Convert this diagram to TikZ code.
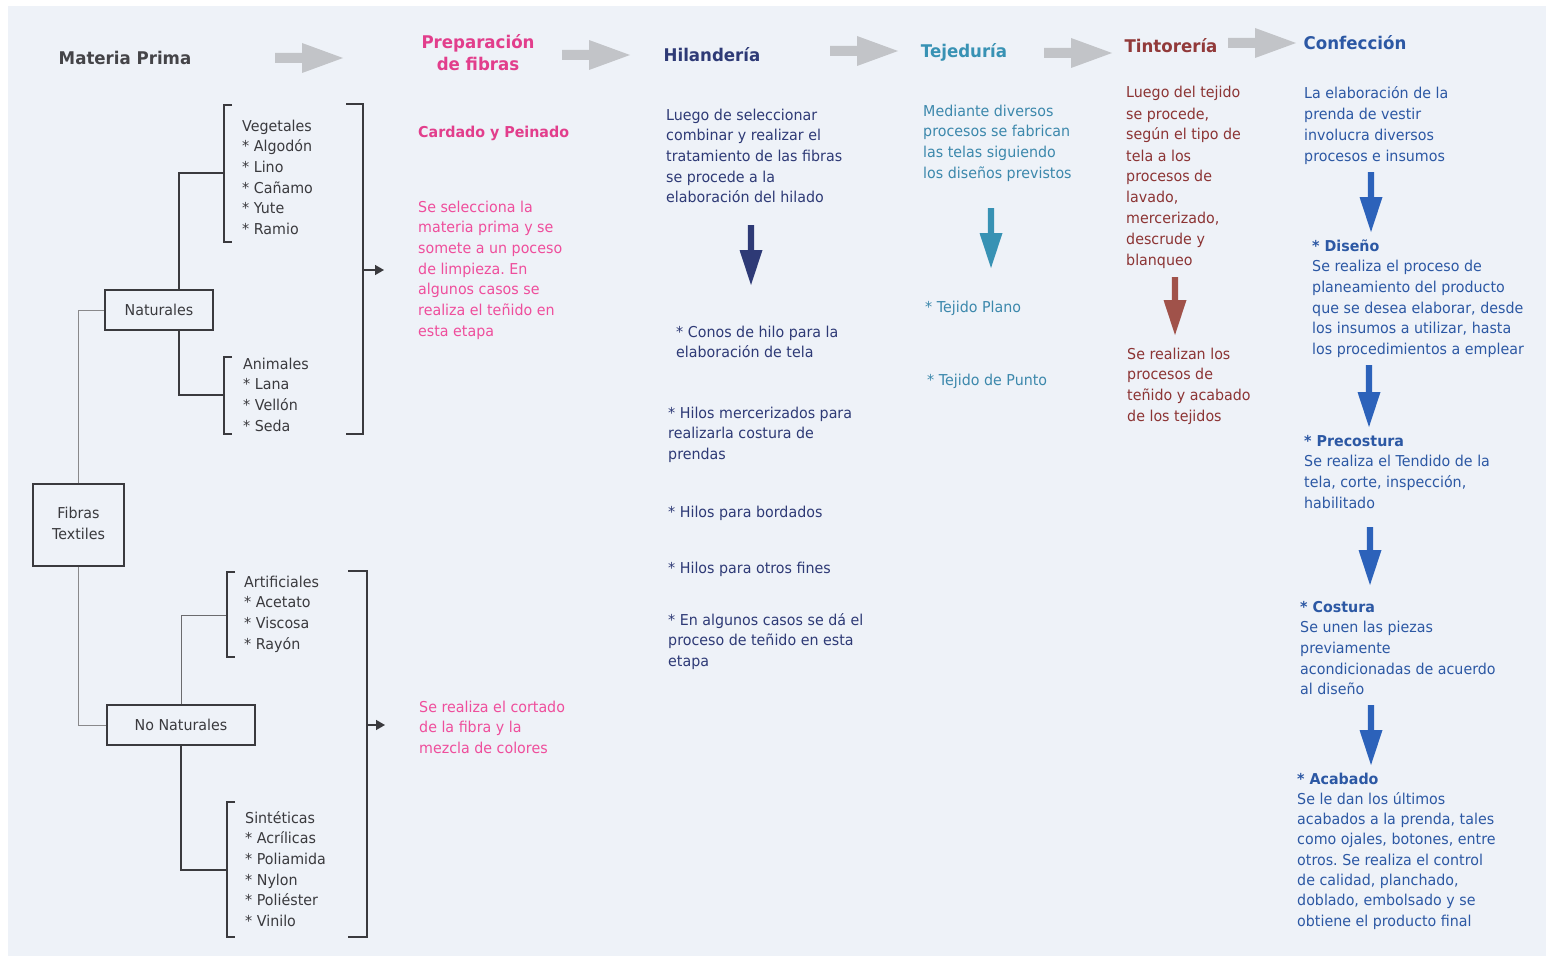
\documentclass[tikz,border=0pt]{standalone}
\usepackage{fontspec}
\setmainfont{DejaVu Sans}[FakeStretch=0.95]
\usetikzlibrary{arrows.meta}
\frenchspacing
\definecolor{bgc}{RGB}{238,242,248}
\definecolor{inkc}{RGB}{58,58,62}
\definecolor{pinkh}{RGB}{226,62,140}
\definecolor{pinkt}{RGB}{238,78,156}
\definecolor{navyc}{RGB}{46,58,118}
\definecolor{tealc}{RGB}{56,146,180}
\definecolor{tealt}{RGB}{60,136,172}
\definecolor{brownc}{RGB}{146,58,58}
\definecolor{brownt}{RGB}{140,52,52}
\definecolor{browna}{RGB}{160,82,74}
\definecolor{bluec}{RGB}{44,88,164}
\definecolor{bluea}{RGB}{44,98,186}
\definecolor{grayar}{RGB}{194,196,200}
\newcommand\fs{\fontsize{15}{20.7}\selectfont}
\newcommand\fh{\fontsize{17.5}{24}\selectfont\bfseries}
\newcommand\tl[1]{\begin{tabular}[t]{@{}l@{}}#1\end{tabular}}
\newcommand\tc[1]{\begin{tabular}[t]{@{}c@{}}#1\end{tabular}}
\newcommand\grayarrow[2]{\fill[grayar] (#1,#2) ++(0,-5) -- ++(27,0) -- ++(0,-10) -- ++(41,15) -- ++(-41,15) -- ++(0,-10) -- ++(-27,0) -- cycle;}
\newcommand\dnarrow[4]{\fill[#1] (#2,#3) ++(-3.2,0) -- ++(6.4,0) -- ++(0,#4-35) -- ++(8.3,0) -- ++(-11.5,35) -- ++(-11.5,-35) -- ++(8.3,0) -- cycle;}
\begin{document}
\begin{tikzpicture}[x=1pt,y=-1pt,
  txt/.style={anchor=base west, inner sep=0pt, font=\fs},
  head/.style={anchor=center, inner sep=0pt, font=\fh},
  box/.style={draw=inkc, line width=1.4pt, inner sep=0pt, font=\fs, text=inkc, fill=bgc},
  treel/.style={draw=inkc, line width=1.4pt},
  thinl/.style={draw=inkc!60, line width=0.8pt},
  outarr/.style={draw=inkc, line width=1.4pt, -{Triangle[length=9pt,width=10pt]}}]
\fill[white] (0,0) rectangle (1548,958);
\fill[bgc] (8,6) rectangle (1546,956);
\useasboundingbox (0,0) rectangle (1548,958);

% headers
\node[head, text=inkc!95] (mp) at (125,58) {Materia Prima};
\node[head, text=pinkh] (prep) at (478,55) {\tc{Preparación\\[-2pt]de fibras}};
\node[head, text=navyc] (hil) at (712,55) {Hilandería};
\node[head, text=tealc] (tej) at (964,52) {Tejeduría};
\node[head, text=brownc] (tin) at (1171,46) {Tintorería};
\node[head, text=bluec] (conf) at (1355,43) {Confección};
\grayarrow{275}{58}
\grayarrow{562}{55}
\grayarrow{830}{51}
\grayarrow{1044}{53}
\grayarrow{1228}{43}

% tree
\node[box, minimum width=91pt, minimum height=82pt] (fib) at (78.5,525) {\tc{Fibras\\Textiles}};
\node[box, minimum width=108pt, minimum height=40pt] (nat) at (159,310) {Naturales};
\node[box, minimum width=148pt, minimum height=40pt] (nonat) at (181,725) {No Naturales};
\draw[thinl] (fib.north) |- (nat.west);
\draw[thinl] (fib.south) |- (nonat.west);

\coordinate (vegJ) at (224,173);
\coordinate (aniJ) at (224,395);
\coordinate (artJ) at (227,615);
\coordinate (sinJ) at (227,870);
\draw[treel] ([xshift=20pt]nat.north) |- (vegJ);
\draw[treel] ([xshift=20pt]nat.south) |- (aniJ);
\draw[thinl, draw=inkc!75, line width=1pt] (nonat.north) |- (artJ);
\draw[treel] (nonat.south) |- (sinJ);

% small brackets
\draw[treel] (232,105) -- (224,105) -- (224,242) -- (232,242);
\draw[treel] (232,357) -- (224,357) -- (224,434) -- (232,434);
\draw[treel] (235,572) -- (227,572) -- (227,657) -- (235,657);
\draw[treel] (235,802) -- (227,802) -- (227,937) -- (235,937);
% big brackets
\draw[treel] (346,104) -- (363,104) -- (363,434) -- (346,434);
\draw[treel] (348,571) -- (367,571) -- (367,937) -- (348,937);
\coordinate (natB) at (363,270);
\coordinate (natE) at (384,270);
\coordinate (nonB) at (367,725);
\coordinate (nonE) at (385,725);
\draw[outarr] (natB) -- (natE);
\draw[outarr] (nonB) -- (nonE);

\node[txt, text=inkc] (veg) at (242,131) {\tl{Vegetales\\{}* Algodón\\{}* Lino\\{}* Cañamo\\{}* Yute\\{}* Ramio}};
\node[txt, text=inkc] (ani) at (243,369) {\tl{Animales\\{}* Lana\\{}* Vellón\\{}* Seda}};
\node[txt, text=inkc] (art) at (244,587) {\tl{Artificiales\\{}* Acetato\\{}* Viscosa\\{}* Rayón}};
\node[txt, text=inkc] (sin) at (245,823) {\tl{Sintéticas\\{}* Acrílicas\\{}* Poliamida\\{}* Nylon\\{}* Poliéster\\{}* Vinilo}};

% preparacion
\node[txt, text=pinkh, font=\fs\bfseries] (card) at (418,137) {Cardado y Peinado};
\node[txt, text=pinkt] (pink1) at (418,212) {\tl{Se selecciona la\\materia prima y se\\somete a un poceso\\de limpieza. En\\algunos casos se\\realiza el teñido en\\esta etapa}};
\node[txt, text=pinkt] (pink2) at (419,712) {\tl{Se realiza el cortado\\de la fibra y la\\mezcla de colores}};

% hilanderia
\node[txt, text=navyc] (h0) at (666,120) {\tl{Luego de seleccionar\\combinar y realizar el\\tratamiento de las fibras\\se procede a la\\elaboración del hilado}};
\dnarrow{navyc}{751}{225}{60}
\node[txt, text=navyc] (h1) at (676,337) {\tl{* Conos de hilo para la\\elaboración de tela}};
\node[txt, text=navyc] (h2) at (668,418) {\tl{* Hilos mercerizados para\\realizarla costura de\\prendas}};
\node[txt, text=navyc] (h3) at (668,517) {* Hilos para bordados};
\node[txt, text=navyc] (h4) at (668,573) {* Hilos para otros fines};
\node[txt, text=navyc] (h5) at (668,625) {\tl{* En algunos casos se dá el\\proceso de teñido en esta\\etapa}};

% tejeduria
\node[txt, text=tealt] (t0) at (923,116) {\tl{Mediante diversos\\procesos se fabrican\\las telas siguiendo\\los diseños previstos}};
\dnarrow{tealc}{991}{208}{60}
\node[txt, text=tealt] (t1) at (925,312) {* Tejido Plano};
\node[txt, text=tealt] (t2) at (927,385) {* Tejido de Punto};

% tintoreria
\node[txt, text=brownt, font=\fontsize{15}{21}\selectfont] (n0) at (1126,98) {\tl{Luego del tejido\\se procede,\\según el tipo de\\tela a los\\procesos de\\lavado,\\mercerizado,\\descrude y\\blanqueo}};
\dnarrow{browna}{1175}{277}{58}
\node[txt, text=brownt] (n1) at (1127,359) {\tl{Se realizan los\\procesos de\\teñido y acabado\\de los tejidos}};

% confeccion
\node[txt, text=bluec] (c0) at (1304,99) {\tl{La elaboración de la\\prenda de vestir\\involucra diversos\\procesos e insumos}};
\dnarrow{bluea}{1371}{172}{60}
\node[txt, text=bluec] (c1) at (1312,251) {\tl{\textbf{* Diseño}\\Se realiza el proceso de\\planeamiento del producto\\que se desea elaborar, desde\\los insumos a utilizar, hasta\\los procedimientos a emplear}};
\dnarrow{bluea}{1369}{365}{62}
\node[txt, text=bluec] (c2) at (1304,446) {\tl{\textbf{* Precostura}\\Se realiza el Tendido de la\\tela, corte, inspección,\\habilitado}};
\dnarrow{bluea}{1370}{527}{58}
\node[txt, text=bluec] (c3) at (1300,612) {\tl{\textbf{* Costura}\\Se unen las piezas\\previamente\\acondicionadas de acuerdo\\al diseño}};
\dnarrow{bluea}{1371}{705}{60}
\node[txt, text=bluec, font=\fontsize{15}{20.3}\selectfont] (c4) at (1297,784) {\tl{\textbf{* Acabado}\\Se le dan los últimos\\acabados a la prenda, tales\\como ojales, botones, entre\\otros. Se realiza el control\\de calidad, planchado,\\doblado, embolsado y se\\obtiene el producto final}};
\end{tikzpicture}
\end{document}
